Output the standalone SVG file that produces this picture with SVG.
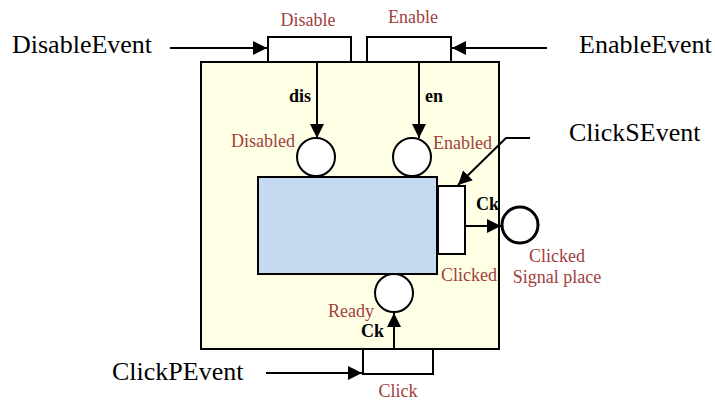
<svg xmlns="http://www.w3.org/2000/svg" width="715" height="400" viewBox="0 0 715 400" font-family="'Liberation Serif', 'Times New Roman', serif">
<style>
text{font-family:'Liberation Serif','Times New Roman',serif}
.lbl{font-size:18px;fill:#a0403c}
.ev{font-size:26px;fill:#000}
.ck{font-size:18px;font-weight:bold;fill:#000}
.tr{fill:#fff;stroke:#000;stroke-width:2}
.pl{fill:#fff;stroke:#000;stroke-width:2}
.ln{fill:none;stroke:#000;stroke-width:2}
</style>
<defs>
<marker id="ahb" markerWidth="14" markerHeight="14" refX="14" refY="7" orient="auto" markerUnits="userSpaceOnUse" viewBox="0 0 14 14">
<path d="M0,0 L14,7 L0,14 z" fill="#000"/>
</marker>
</defs>
<g id="component">
<rect x="201" y="62" width="298" height="287" fill="#ffffe6" stroke="#000" stroke-width="2"/>
</g>
<g id="module">
<rect x="258" y="177" width="179" height="97" fill="#c5d9f0" stroke="#000" stroke-width="2"/>
</g>
<g id="t-disable">
<rect class="tr" x="268" y="37" width="83" height="25"/>
<text class="lbl" x="308" y="26" text-anchor="middle">Disable</text>
</g>
<g id="t-enable">
<rect class="tr" x="367" y="37" width="84" height="25"/>
<text class="lbl" x="413" y="23" text-anchor="middle">Enable</text>
</g>
<g id="p-disabled">
<circle class="pl" cx="316" cy="157" r="19"/>
<text class="lbl" x="295" y="147" text-anchor="end">Disabled</text>
</g>
<g id="p-enabled">
<circle class="pl" cx="412" cy="157" r="19"/>
<text class="lbl" x="433" y="149">Enabled</text>
</g>
<g id="t-clicked">
<rect class="tr" x="438" y="186" width="27" height="68"/>
<text class="lbl" x="441" y="281">Clicked</text>
</g>
<g id="p-clicked-signal">
<circle cx="520" cy="225" r="18" fill="#fff" stroke="#000" stroke-width="3"/>
<text class="lbl" x="557" y="262" text-anchor="middle">Clicked</text>
<text class="lbl" x="557" y="283" text-anchor="middle">Signal place</text>
</g>
<g id="p-ready">
<circle class="pl" cx="394" cy="293" r="19"/>
<text class="lbl" x="374" y="317" text-anchor="end">Ready</text>
</g>
<g id="t-click">
<rect class="tr" x="363" y="349" width="70" height="25"/>
<text class="lbl" x="398" y="397" text-anchor="middle">Click</text>
</g>
<g id="events">
<text class="ev" x="12" y="53">DisableEvent</text>
<text class="ev" x="579" y="53">EnableEvent</text>
<text class="ev" x="569" y="141">ClickSEvent</text>
<text class="ev" x="112" y="380">ClickPEvent</text>
</g>
<g id="connectors">
<line class="ln" x1="170" y1="48" x2="267" y2="48" marker-end="url(#ahb)"/>
<line class="ln" x1="547" y1="48" x2="452" y2="48" marker-end="url(#ahb)"/>
<line class="ln" x1="317" y1="62" x2="317" y2="138" marker-end="url(#ahb)"/>
<line class="ln" x1="419" y1="62" x2="419" y2="138" marker-end="url(#ahb)"/>
<polyline class="ln" points="530,138 506,138 458,185" marker-end="url(#ahb)"/>
<line class="ln" x1="465" y1="226" x2="501" y2="226" marker-end="url(#ahb)"/>
<line class="ln" x1="394" y1="349" x2="394" y2="313" marker-end="url(#ahb)"/>
<line class="ln" x1="266" y1="373" x2="362" y2="373" marker-end="url(#ahb)"/>
<text class="ck" x="289" y="102">dis</text>
<text class="ck" x="425" y="102">en</text>
<text class="ck" x="476" y="210">Ck</text>
<text class="ck" x="361" y="337">Ck</text>
</g>
</svg>
